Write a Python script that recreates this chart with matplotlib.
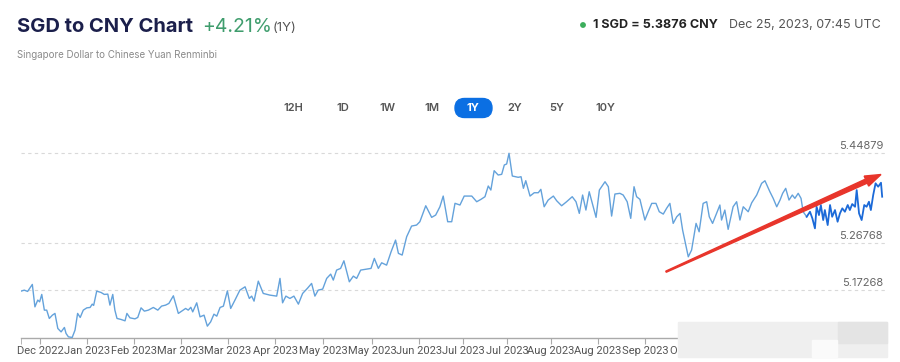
import numpy as np
import matplotlib.pyplot as plt
from matplotlib.patches import Polygon, Rectangle, FancyBboxPatch, Circle

plt.rcParams['font.family'] = ['Inter', 'DejaVu Sans']

# days since Dec 25 2022, SGD->CNY rate
days = [0.0, 1.4, 2.8, 4.8, 5.9, 7.1, 7.9, 8.8, 9.9, 10.9, 12.0, 13.3, 14.4, 15.6, 17.0,
        18.4, 19.1, 20.1, 21.7, 22.9, 24.0, 25.1, 26.4, 27.9, 29.3, 30.2, 30.8, 32.1, 33.9,
        35.3, 36.8, 37.7, 38.9, 39.8, 40.7, 42.4, 44.1, 44.9, 46.2, 48.3, 49.5, 50.9, 52.3,
        54.0, 56.1, 58.0, 59.6, 61.3, 62.7, 64.6, 65.7, 66.7, 68.1, 69.8, 70.9, 72.0, 72.8,
        74.5, 75.9, 77.6, 79.0, 80.4, 81.8, 83.0, 84.4, 85.8, 87.5, 88.9, 90.7, 92.8, 95.0,
        96.8, 97.8, 98.8, 100.6, 102.7, 105.5, 108.4, 109.8, 110.9, 112.3, 114.0, 115.7,
        117.6, 119.4, 121.4, 123.2, 124.6, 126.0, 127.9, 129.6, 131.3, 132.4, 133.8, 135.5,
        136.9, 139.2, 140.9, 142.3, 144.0, 145.8, 148.4, 149.8, 151.5, 152.9, 155.0, 156.9,
        158.8, 160.0, 161.6, 163.5, 165.6, 167.7, 169.1, 171.6, 174.1, 175.8, 177.6, 179.0,
        180.9, 182.6, 184.0, 186.1, 187.9, 191.1, 193.2, 195.0, 196.7, 198.1, 199.2, 200.6,
        202.3, 203.8, 204.9, 205.9, 206.9, 208.3, 210.8, 212.0, 213.0, 214.0, 215.8, 217.6,
        219.3, 220.4, 221.8, 223.5, 225.7, 227.1, 229.2, 231.3, 233.7, 235.3, 236.7, 238.1,
        239.5, 240.9, 242.4, 243.8, 245.2, 247.6, 249.0, 250.4, 251.8, 253.9, 255.3, 257.0,
        258.5, 259.9, 261.0, 262.4, 264.5, 265.9, 267.4, 269.2, 270.6, 272.3, 273.7, 275.1,
        276.5, 278.0, 279.4, 280.5, 282.9, 284.3, 286.2, 287.5, 289.2, 290.7, 291.8, 293.2,
        294.6, 296.3, 297.0, 298.4, 299.8, 301.9, 303.4, 304.8, 306.2, 308.3, 309.8, 311.9,
        314.0, 315.4, 317.5, 318.9, 320.4, 321.8, 322.9, 324.2, 325.6, 327.0, 328.1, 329.5,
        330.7, 331.6, 333.1]
rate = [5.1705, 5.1725, 5.1699, 5.1840, 5.1389, 5.1525, 5.1490, 5.1639, 5.1323, 5.1323,
        5.1156, 5.1222, 5.1257, 5.0955, 5.0886, 5.0975, 5.0854, 5.0786, 5.0774, 5.0921,
        5.1257, 5.1176, 5.1323, 5.1369, 5.1377, 5.1444, 5.1418, 5.1705, 5.1679, 5.1639,
        5.1645, 5.1424, 5.1639, 5.1323, 5.1156, 5.1136, 5.1108, 5.1257, 5.1168, 5.1148,
        5.1176, 5.1369, 5.1303, 5.1323, 5.1377, 5.1323, 5.1404, 5.1424, 5.1458, 5.1611,
        5.1424, 5.1257, 5.1303, 5.1357, 5.1323, 5.1380, 5.1288, 5.1470, 5.1188, 5.1222,
        5.1001, 5.1087, 5.1242, 5.1202, 5.1377, 5.1403, 5.1711, 5.1357, 5.1524, 5.1725,
        5.1792, 5.1558, 5.1605, 5.1504, 5.1906, 5.1659, 5.1625, 5.1605, 5.1961, 5.1470,
        5.1605, 5.1558, 5.1605, 5.1444, 5.1659, 5.1760, 5.1860, 5.1605, 5.1725, 5.1746,
        5.1961, 5.2047, 5.1927, 5.2128, 5.2162, 5.2315, 5.1893, 5.2007, 5.1961, 5.2128,
        5.2142, 5.2162, 5.2363, 5.2162, 5.2275, 5.2228, 5.2496, 5.2731, 5.2464, 5.2430,
        5.2798, 5.3013, 5.3033, 5.3100, 5.3421, 5.3188, 5.3234, 5.3401, 5.3616, 5.3100,
        5.3100, 5.3470, 5.3436, 5.3616, 5.3616, 5.3502, 5.3550, 5.3603, 5.3818, 5.3737,
        5.4126, 5.4039, 5.4053, 5.4241, 5.4261, 5.4476, 5.4019, 5.3993, 5.4005, 5.3772,
        5.3925, 5.3616, 5.3683, 5.3683, 5.3751, 5.3401, 5.3536, 5.3616, 5.3522, 5.3421,
        5.3502, 5.3603, 5.3502, 5.3268, 5.3637, 5.3335, 5.3703, 5.3436, 5.3188, 5.3737,
        5.3904, 5.3804, 5.3214, 5.3657, 5.3671, 5.3637, 5.3502, 5.3168, 5.3804, 5.3603,
        5.3550, 5.3134, 5.3301, 5.3469, 5.3469, 5.3301, 5.3254, 5.3369, 5.3469, 5.3067,
        5.3200, 5.3268, 5.2932, 5.2395, 5.2530, 5.3067, 5.2898, 5.3469, 5.3502, 5.3200,
        5.3067, 5.3234, 5.3436, 5.3134, 5.3335, 5.2947, 5.3401, 5.3502, 5.3134, 5.3401,
        5.3301, 5.3482, 5.3637, 5.3872, 5.3924, 5.3703, 5.3570, 5.3401, 5.3536, 5.3671,
        5.3771, 5.3536, 5.3637, 5.3570, 5.3671, 5.3570, 5.3301, 5.3200]

# last weeks, drawn darker in the screenshot
recent_days = [333.1, 334.5, 335.5, 336.6, 337.3, 338.3, 339.1, 340.1, 340.8, 342.0, 343.0,
               343.9, 345.1, 346.2, 347.2, 348.2, 349.3, 350.5, 351.4, 352.4, 353.6, 354.3,
               355.3, 356.4, 357.5, 358.5, 359.5, 360.3, 361.3, 362.3, 363.4, 364.6, 365.1]
recent_rate = [5.3200, 5.3301, 5.3168, 5.2967, 5.3401, 5.3234, 5.3436, 5.3134, 5.3335,
               5.3033, 5.3436, 5.3200, 5.3335, 5.3100, 5.3268, 5.3369, 5.3301, 5.3436,
               5.3335, 5.3456, 5.3401, 5.3737, 5.3268, 5.3134, 5.3436, 5.3401, 5.3502,
               5.3335, 5.3637, 5.3872, 5.3804, 5.3884, 5.3603]

grid_levels = [5.44879, 5.26768, 5.17268]
tick_days = [8.1, 28.0, 47.9, 67.8, 87.8, 107.7, 128.0, 148.8, 168.7, 187.4, 206.0,
             224.7, 244.6, 264.5, 284.5]
tick_labels = ['Dec 2022', 'Jan 2023', 'Feb 2023', 'Mar 2023', 'Mar 2023', 'Apr 2023',
               'May 2023', 'May 2023', 'Jun 2023', 'Jul 2023', 'Jul 2023', 'Aug 2023',
               'Aug 2023', 'Sep 2023', 'Oct 2023']
ranges = ['12H', '1D', '1W', '1M', '1Y', '2Y', '5Y', '10Y']

W, H = 900, 362
fig = plt.figure(figsize=(9, 3.62), dpi=100)

ax = fig.add_axes([21 / W, 1 - 338 / H, 864 / W, 198 / H])
ax.set_xlim(0, 366.3)
ax.set_ylim(5.0763, 5.4743)

for lv in grid_levels:
    ax.axhline(lv, color='#d9d9d9', lw=0.8, dashes=(3, 3), zorder=1)
    ax.text(0.9977, lv + 0.004, '{:.5f}'.format(lv), transform=ax.get_yaxis_transform(),
            ha='right', va='bottom', fontsize=8, color='#666666')

ax.plot(days, rate, color='#64a2db', lw=1.0, zorder=3)
ax.plot(recent_days, recent_rate, color='#1c6ad8', lw=1.3, zorder=4)

for s in ['top', 'right', 'left']:
    ax.spines[s].set_visible(False)
ax.spines['bottom'].set_color('#aaaaaa')
ax.spines['bottom'].set_linewidth(1.0)
ax.set_yticks([])
ax.set_xticks(tick_days)
ax.set_xticklabels(tick_labels, fontsize=8.0, color='#555555', family=['Roboto', 'DejaVu Sans'])
ax.set_xticks([0], minor=True)
ax.tick_params(axis='x', which='both', length=4, color='#aaaaaa', pad=1.5)

# overlay in pixel units for header, buttons and the annotations
ov = fig.add_axes([0, 0, 1, 1], zorder=5)
ov.set_xlim(0, W)
ov.set_ylim(H, 0)
ov.axis('off')
ov.patch.set_alpha(0)

ov.text(17, 27, 'SGD to CNY Chart', fontsize=14.5, fontweight='bold',
        color='#1b1f4b', ha='left', va='center')
ov.text(202, 27, '+4.21%', fontsize=14, color='#3f9d6d', ha='left', va='center')
ov.text(273, 28, '(1Y)', fontsize=9.5, color='#555555', ha='left', va='center')
ov.text(17, 55, 'Singapore Dollar to Chinese Yuan Renminbi', fontsize=7.0,
        color='#8a8a8a', ha='left', va='center')

ov.add_patch(Circle((583, 25), 2.2, color='#3cae5c'))
ov.text(593, 25, '1 SGD = 5.3876 CNY', fontsize=9, fontweight='bold',
        color='#222222', ha='left', va='center')
ov.text(729, 25, 'Dec 25, 2023, 07:45 UTC', fontsize=9, color='#555555',
        ha='left', va='center')

# range buttons
btn_x = [293, 343, 387, 432, 473, 515, 557, 605]
for lab, bx in zip(ranges, btn_x):
    if lab == '1Y':
        ov.add_patch(FancyBboxPatch((455, 98.5), 37, 19,
                                    boxstyle='round,pad=0,rounding_size=9.5',
                                    color='#0b6fe3'))
        ov.text(bx, 108, lab, fontsize=8, fontweight='bold', color='white',
                ha='center', va='center')
    else:
        ov.text(bx, 108, lab, fontsize=8, fontweight='semibold', color='#555555',
                ha='center', va='center')

# red hand-drawn arrow
p0 = np.array([666.0, 271.7])
p1 = np.array([881.0, 174.5])
d = (p1 - p0) / np.linalg.norm(p1 - p0)
n = np.array([-d[1], d[0]])
hb = p1 - d * 16
pts = [p0 + n * 0.6, hb + n * 2.2, hb + n * 5.5, p1, hb - n * 5.5, hb - n * 2.2, p0 - n * 0.6]
ov.add_patch(Polygon(pts, closed=True, color='#e8352b', zorder=10))

# blurred watermark block
ov.add_patch(Rectangle((678, 322), 209, 35, color='#efefef', zorder=10))
ov.add_patch(Rectangle((838, 322), 49, 21, color='#e4e4e4', zorder=11))
ov.add_patch(Rectangle((812, 340), 25, 17, color='#fafafa', zorder=11))

fig.savefig('out.png', dpi=100)
